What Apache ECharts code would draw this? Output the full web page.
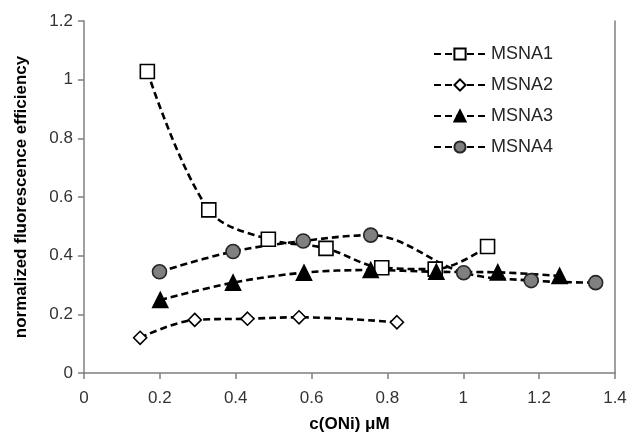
<!DOCTYPE html>
<html>
<head>
<meta charset="utf-8">
<script src="https://cdn.jsdelivr.net/npm/echarts@6/dist/echarts.min.js"></script>
<style>
  html, body { margin: 0; padding: 0; background: #fff; }
  #chart { width: 630px; height: 442px; }
</style>
</head>
<body>
<div id="chart"></div>
<script>
// Concentration (µM) and normalized efficiency for each sample
const msna1X = [0.167, 0.329, 0.486, 0.638, 0.785, 0.926, 1.064];
const msna1Y = [1.028, 0.556, 0.456, 0.425, 0.359, 0.354, 0.431];

const msna2X = [0.148, 0.292, 0.431, 0.567, 0.825];
const msna2Y = [0.120, 0.181, 0.185, 0.190, 0.173];

const msna3X = [0.201, 0.393, 0.580, 0.756, 0.929, 1.091, 1.254];
const msna3Y = [0.249, 0.308, 0.342, 0.351, 0.345, 0.343, 0.331];

const msna4X = [0.199, 0.393, 0.578, 0.756, 1.001, 1.179, 1.349];
const msna4Y = [0.345, 0.414, 0.450, 0.470, 0.342, 0.315, 0.308];

const seriesNames = ['MSNA1', 'MSNA2', 'MSNA3', 'MSNA4'];
const xTicks = [0, 0.2, 0.4, 0.6, 0.8, 1, 1.2, 1.4];
const yTicks = [0, 0.2, 0.4, 0.6, 0.8, 1, 1.2];

const FONT = 'Liberation Sans, Arial, sans-serif';
const AXIS_COLOR = '#7f7f7f';

function pairs(xs, ys) { return xs.map((x, i) => [x, ys[i]]); }

function makeSeries(name, xs, ys, symbol, size, fill, border) {
  return {
    name: name,
    type: 'line',
    data: pairs(xs, ys),
    smooth: 0.35,
    symbol: symbol,
    symbolSize: size,
    showAllSymbol: true,
    lineStyle: { color: '#000', width: 2.6, type: [7, 4] },
    itemStyle: { color: fill, borderColor: border, borderWidth: 1.6 },
    emphasis: { disabled: true },
    z: 2
  };
}

const chart = echarts.init(document.getElementById('chart'), null, { renderer: 'canvas' });

chart.setOption({
  animation: false,
  backgroundColor: '#fff',
  textStyle: { fontFamily: FONT },
  grid: { left: 84, right: 15, top: 21, bottom: 69, containLabel: false },
  legend: {
    orient: 'vertical',
    left: 428,
    top: 40,
    itemWidth: 52,
    itemHeight: 14,
    itemGap: 13,
    data: seriesNames,
    textStyle: { fontFamily: FONT, fontSize: 18, color: '#262626', padding: [0, 0, 0, 0] }
  },
  xAxis: {
    type: 'value',
    min: 0, max: 1.4, interval: 0.2,
    name: 'c(ONi) \u03bcM',
    nameLocation: 'middle',
    nameGap: 43,
    nameTextStyle: { fontFamily: FONT, fontSize: 17, fontWeight: 'bold', color: '#000' },
    axisLine: { show: true, onZero: false, lineStyle: { color: AXIS_COLOR, width: 1.5 } },
    axisTick: { show: true, length: 6, lineStyle: { color: AXIS_COLOR, width: 1.5 } },
    axisLabel: {
      fontFamily: FONT, fontSize: 17, color: '#333', margin: 17,
      formatter: v => { const t = xTicks.find(k => Math.abs(k - v) < 1e-9); return t === undefined ? '' : String(t); }
    },
    splitLine: { show: false }
  },
  yAxis: [{
    type: 'value',
    min: 0, max: 1.2, interval: 0.2,
    name: 'normalized fluorescence efficiency',
    nameLocation: 'middle',
    nameGap: 54,
    nameTextStyle: { fontFamily: FONT, fontSize: 17, fontWeight: 'bold', color: '#000' },
    axisLine: { show: true, onZero: false, lineStyle: { color: AXIS_COLOR, width: 1.5 } },
    axisTick: { show: true, length: 6, lineStyle: { color: AXIS_COLOR, width: 1.5 } },
    axisLabel: {
      fontFamily: FONT, fontSize: 17, color: '#333', margin: 11,
      formatter: v => { const t = yTicks.find(k => Math.abs(k - v) < 1e-9); return t === undefined ? '' : String(t); }
    },
    splitLine: { show: false }
  }, {
    type: 'value',
    position: 'right',
    min: 0, max: 1.2, interval: 0.2,
    axisLine: { show: true, onZero: false, lineStyle: { color: AXIS_COLOR, width: 1.5 } },
    axisTick: { show: false },
    axisLabel: { show: false },
    splitLine: { show: false }
  }],
  series: [
    makeSeries('MSNA1', msna1X, msna1Y, 'rect', 14, '#fff', '#000'),
    makeSeries('MSNA2', msna2X, msna2Y, 'diamond', 13, '#fff', '#000'),
    makeSeries('MSNA3', msna3X, msna3Y, 'triangle', 15, '#000', '#000'),
    makeSeries('MSNA4', msna4X, msna4Y, 'circle', 14, '#808080', '#262626')
  ]
});
</script>
</body>
</html>
